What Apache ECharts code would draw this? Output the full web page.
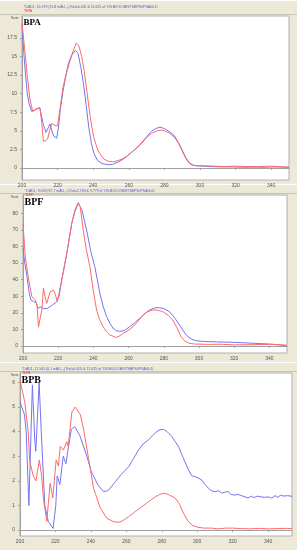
<!DOCTYPE html>
<html><head><meta charset="utf-8">
<script src="https://cdn.jsdelivr.net/npm/echarts@6/dist/echarts.min.js"></script>
<style>html,body{margin:0;padding:0;background:#ECE9D8;}#c{width:297px;height:550px;}</style>
</head><body><div id="c"></div>
<script>
// ---- Data (wavelength nm, absorbance) ----
const bpaBlueX = [200,201,202,203,204,205.5,207,208.5,210,211,212,213.5,214.5,215.8,216.8,217.8,219.5,220.5,221.5,223,224.5,226,228,230,231.5,233,234.5,236,237.5,239,240.5,242.5,245,248,251,254,257,260,263,266.5,270,272.5,275,277.5,280,282,284,286,288,290,292,294,296,298,302,306,312,318,324,330,336,342,346,350];
const bpaBlueY = [19.3,15.5,12.5,10,8.6,7.6,7.8,8.0,8.1,7.0,5.8,4.8,5.0,5.9,5.0,4.3,4.0,5.5,7.8,10.3,12.2,14.0,15.2,15.8,15.4,13.6,11.4,8.5,5.5,3.3,1.9,1.0,0.6,0.45,0.5,0.8,1.2,1.8,2.4,3.2,4.2,4.9,5.3,5.5,5.3,5.0,4.7,4.2,3.4,2.4,1.4,0.7,0.4,0.3,0.25,0.2,0.15,0.15,0.1,0.12,0.1,0.15,0.12,0.1];
const bpaRedX = [200,201.5,203,204.5,206,208,210,211,212,213.5,214.5,215.5,216.7,218.5,220,221.5,223,224.5,226.5,228.5,230.5,232,233.5,235,236.5,238.3,240.2,242,243.5,246,248.5,251.5,254,257,260,263,266.5,270,273,276,278,280,282,284,286,288,290,292,294,296,298,302,308,314,320,326,332,338,344,350];
const bpaRedY = [19.5,16,12.3,9.2,7.6,7.9,8.1,6.3,3.6,3.7,4.0,5.0,6.0,5.7,5.7,8.2,10.8,12.4,14.0,15.6,16.8,16.4,15.0,13.0,10.2,6.9,4.2,2.8,2.0,1.2,0.9,0.85,1.0,1.3,1.8,2.4,3.1,4.1,4.7,5.0,5.1,5.0,4.8,4.5,4.0,3.3,2.3,1.3,0.6,0.35,0.3,0.3,0.25,0.2,0.25,0.2,0.2,0.25,0.2,0.1];

const bpfBlueX = [200,201,202.3,203.5,204.5,206,207.5,208.5,210.3,211.5,212.6,214,215.4,217,219.2,220.5,222,224.9,227.7,229.5,231.4,232.5,233.5,235,236.5,238.5,240.8,243.7,245.5,247.5,249.5,251.2,253,255,257.5,260.6,263.5,266.3,269,271.9,275,277.5,280,283.2,285,287,290,292.7,295.5,298.3,302,310,320,330,340,345,350];
const bpfBlueY = [58.8,50,41.7,32,27.7,26.8,26.2,22.7,23.7,22.5,21.7,22.7,23.7,25,26.7,30,39.8,55.8,73.9,81,86,85,82,75,68,57,47.8,31.7,24,17.7,13.5,10.7,9.3,8.8,9.3,11.6,14,16.7,19.3,21.7,23.0,23.1,22.6,20.7,18.5,15.7,11,6.6,4.3,3.2,2.8,2.5,2.2,1.7,1.2,0.8,0];
const bpfRedX = [200,201.3,203.2,205.1,207,208,208.8,209.8,210.7,211.6,212.5,213.5,215.4,217.3,218.2,219.5,222,224.9,227.7,229.5,231.4,232.5,234.2,236,238,240,241.8,243.5,245.5,247.5,249.3,251,253.1,255,256.8,259.5,262.5,265.5,268.1,271,273.8,276.5,279.4,282.5,285.1,287.5,289.8,292,294.5,298,305,312,320,330,340,345,350];
const bpfRedY = [73.9,53.8,39.8,29.7,27.7,24,11.6,17,21.7,34.8,30,25.7,32.7,33.7,31.7,26.7,39.8,55.8,73.9,82,86.5,84,69.9,58,47.8,33,21.7,16,11.6,8.5,6.6,6,5.2,6.2,7.6,9.2,11.6,15,18.7,20.8,21.7,21.6,20.7,18.5,15.7,11,5.6,3,1.6,1.2,1.0,1.1,0.7,0.8,1.0,0.8,0.5];

const bpbBlueX = [200,202.5,203.5,205,207,208.3,208.9,210.8,212,214,216,218.7,220.2,221,222.5,224.4,225.9,227.4,229,230.9,233.7,237.5,240.3,244,247.2,249.5,251.5,253.7,257,261.3,264,266.9,269.5,272.5,275,277.2,279,281,283,285.7,287.5,289.5,292,295.1,297,298.8,300.5,302.6,304.5,306.3,308,310.1,312,314,316,317.7,319,321.4,323,325,327,328.7,330.5,332,334,336,338,340,342,344,345.5,347,349,351,353.5];
const bpbBlueY = [5.2,4.7,4.0,1.0,5.9,3.7,3.2,6.0,4.0,1.0,0.34,0.07,1.0,2.2,1.85,3.0,2.7,3.4,4.1,4.2,3.85,3.05,2.37,1.83,1.56,1.6,1.75,1.96,2.25,2.57,2.9,3.25,3.5,3.66,3.85,4.0,4.08,4.09,4.0,3.8,3.6,3.39,2.95,2.44,2.2,2.17,2.12,2.03,1.85,1.7,1.6,1.56,1.6,1.5,1.55,1.56,1.45,1.42,1.45,1.4,1.35,1.3,1.38,1.32,1.38,1.35,1.33,1.35,1.3,1.4,1.33,1.42,1.38,1.4,1.37];
const bpbRedX = [200,202.7,204.6,205.5,207.5,209,210.9,212.2,213.2,215.1,217,218.5,220.4,221.7,222.7,224.5,226.4,227.2,229.3,231.2,234,235.9,238.7,241.5,245.3,249,252.8,256,258,261.3,265,268.8,272.5,276.3,279,281,283.5,287.6,290,292.3,294.5,297,300,304,308,312,316,320,325,330,335,340,345,350,353.5];
const bpbRedY = [6.1,5.2,4.0,2.8,2.2,2.0,2.85,2.2,1.3,0.35,1.9,1.3,2.85,2.6,3.4,3.25,3.6,3.4,4.8,5.0,4.7,4.1,2.9,1.7,0.9,0.48,0.34,0.32,0.38,0.54,0.75,0.95,1.15,1.35,1.45,1.5,1.45,1.3,1.05,0.68,0.4,0.2,0.12,0.08,0.08,0.05,0.08,0.08,0.06,0.05,0.07,0.05,0.06,0.07,0.06];

const xTicks = [200,220,240,260,280,300,320,340];
const bpaYTicks = [0,2.5,5,7.5,10,12.5,15,17.5];
const bpfYTicks = [0,10,20,30,40,50,60,70,80];
const bpbYTicks = [0,1,2,3,4,5,6];
const panelNames = ['BPA','BPF','BPB'];
const headerTexts = [
  '*DAD1, 15.379 (15.8 mAU, -) Ref=6.605 & 11.625 of YXLB\\OCOBISTSBPS0PSA00.D',
  '*DAD1, 9.069 (87.7 mAU, -) Ref=2.769 & 9.779 of YXLB\\OCOBISTSBPS0PSA00.D',
  '*DAD1, 11.505 (6.1 mAU, -) Ref=6.605 & 11.625 of YXLB\\OCOBISTSBPS0PSA00.D'
];

const pairs = (xs, ys) => xs.map((x, i) => [x, ys[i]]);
const BLUE = '#7474F4', RED = '#FF6A6A';

const grids = [
  {left: 22, top: 16, width: 267, height: 164},
  {left: 23, top: 195, width: 264, height: 158},
  {left: 20, top: 373, width: 272, height: 163}
];
const xMax = [350, 350, 353.5];
const yRange = [[-1.61, 20.43], [-4.2, 91.0], [-0.24, 6.38]];
const yTicks = [bpaYTicks, bpfYTicks, bpbYTicks];

const chart = echarts.init(document.getElementById('c'), null, {renderer: 'canvas'});
const lbl = {fontSize: 5, color: '#555', fontFamily: 'Liberation Sans'};
const option = {
  animation: false,
  backgroundColor: '#ECE9D8',
  grid: grids.map(g => Object.assign({show: true, backgroundColor: '#ffffff', borderColor: '#b0b0b0', borderWidth: 1}, g)),
  xAxis: grids.map((g, i) => ({
    type: 'value', gridIndex: i, min: 200, max: xMax[i],
    splitLine: {show: false},
    axisLine: {show: true, lineStyle: {color: '#a0a0a0'}},
    axisTick: {show: true, length: 2, customValues: xTicks, lineStyle: {color: '#a0a0a0'}},
    axisLabel: Object.assign({customValues: xTicks, margin: 3}, lbl)
  })),
  yAxis: grids.map((g, i) => ({
    type: 'value', gridIndex: i, min: yRange[i][0], max: yRange[i][1],
    splitLine: {show: false},
    axisLine: {show: true, onZero: false, lineStyle: {color: '#a0a0a0'}},
    axisTick: {show: true, length: 2, customValues: yTicks[i], lineStyle: {color: '#a0a0a0'}},
    axisLabel: Object.assign({customValues: yTicks[i], margin: 5}, lbl)
  })),
  series: [
    {data: pairs(bpaBlueX, bpaBlueY), color: BLUE, xAxisIndex: 0, yAxisIndex: 0},
    {data: pairs(bpaRedX, bpaRedY), color: RED, xAxisIndex: 0, yAxisIndex: 0},
    {data: pairs(bpfBlueX, bpfBlueY), color: BLUE, xAxisIndex: 1, yAxisIndex: 1},
    {data: pairs(bpfRedX, bpfRedY), color: RED, xAxisIndex: 1, yAxisIndex: 1},
    {data: pairs(bpbBlueX, bpbBlueY), color: BLUE, xAxisIndex: 2, yAxisIndex: 2},
    {data: pairs(bpbRedX, bpbRedY), color: RED, xAxisIndex: 2, yAxisIndex: 2}
  ].map(s => Object.assign({type: 'line', showSymbol: false, symbol: 'none', lineStyle: {width: 1, color: s.color}, silent: true}, s)),
  graphic: []
};
const headerTop = [0, 184, 362];
const nameFont = [9, 10, 10];
grids.forEach((g, i) => {
  // panel separators
  option.graphic.push({type: 'line', shape: {x1: 0, y1: headerTop[i] + 0.5, x2: 297, y2: headerTop[i] + 0.5}, style: {stroke: '#ffffff', lineWidth: 1}});
  option.graphic.push({type: 'line', shape: {x1: 0, y1: g.top - 1.5, x2: 297, y2: g.top - 1.5}, style: {stroke: '#c8c5b5', lineWidth: 1}});
  option.graphic.push({type: 'text', left: g.left + 2, top: headerTop[i] + 5, style: {text: headerTexts[i], fontSize: 3.5, fill: '#5555dd', fontFamily: 'Liberation Sans'}});
  option.graphic.push({type: 'text', left: g.left + 2, top: headerTop[i] + 9.5, style: {text: '*' + panelNames[i], fontSize: 3.5, fill: '#ee3333', fontFamily: 'Liberation Sans'}});
  option.graphic.push({type: 'text', left: 11, top: g.top + 1, style: {text: 'Norm.', fontSize: 3, fill: '#555', fontFamily: 'Liberation Sans'}});
  option.graphic.push({type: 'text', left: g.left + 1.5, top: g.top + 2, style: {text: panelNames[i], fontSize: nameFont[i], fontWeight: 'bold', fill: '#000', fontFamily: 'Liberation Serif'}});
});
chart.setOption(option);
</script></body></html>
